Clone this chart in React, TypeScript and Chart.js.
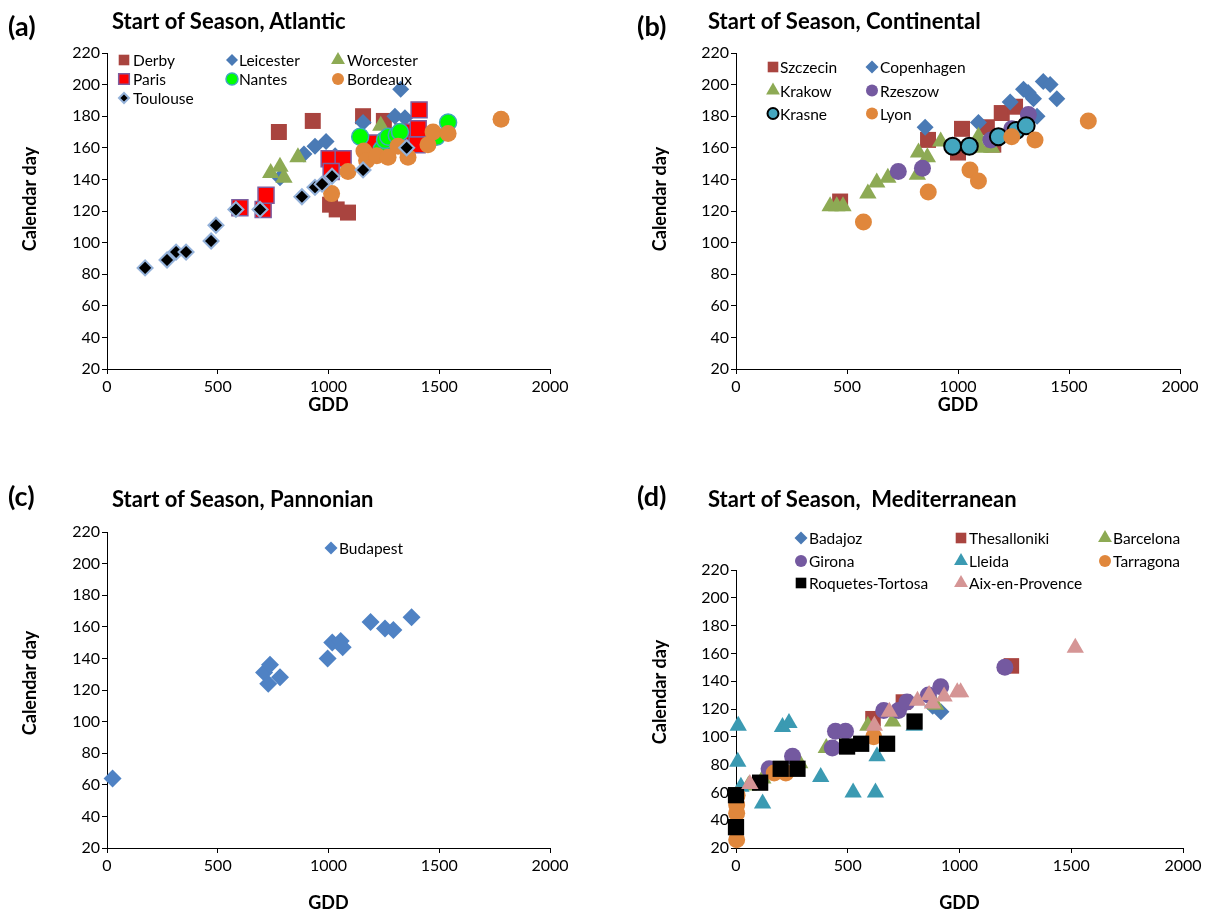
import React, { useEffect, useRef } from 'react';
import { Chart, registerables } from 'chart.js';
import { drawPoint } from 'chart.js/helpers';

Chart.register(...registerables);

const FONT = 'Lato, "Open Sans", sans-serif';

// ---------- Panel (a) Atlantic ----------
const derbyGdd = [776, 929, 1007, 1037, 1088, 1156, 1250];
const derbyDay = [170, 177, 124, 121, 119, 180, 177];
const leicesterGdd = [781, 889, 939, 989, 1030, 1156, 1300, 1345, 1326];
const leicesterDay = [141, 156, 161, 164, 155, 176, 180, 179, 197];
const worcesterGdd = [739, 781, 799, 862, 1236];
const worcesterDay = [144, 148, 141, 154, 174];
const parisGdd = [600, 705, 718, 1003, 1066, 1012, 1187, 1337, 1400, 1405, 1409];
const parisDay = [122, 121, 130, 153, 153, 145, 163, 170, 162, 172, 184];
const nantesGdd = [1143, 1240, 1255, 1270, 1308, 1323, 1488, 1540];
const nantesDay = [167, 159, 165, 167, 168, 170, 167, 176];
const bordeauxGdd = [1014, 1088, 1160, 1172, 1218, 1269, 1314, 1359, 1449, 1472, 1540, 1779];
const bordeauxDay = [131, 145, 158, 152, 155, 154, 161, 154, 162, 170, 169, 178];
const toulouseGdd = [172, 271, 312, 357, 470, 492, 582, 691, 880, 939, 971, 1016, 1156, 1353];
const toulouseDay = [84, 89, 94, 94, 101, 111, 121, 121, 129, 135, 137, 142, 146, 160];

// ---------- Panel (b) Continental ----------
const szczecinGdd = [469, 865, 1000, 1018, 1130, 1159, 1197, 1257];
const szczecinDay = [126, 165, 157, 172, 173, 162, 182, 186];
const copenhagenGdd = [852, 1092, 1235, 1295, 1316, 1340, 1356, 1384, 1415, 1445];
const copenhagenDay = [173, 176, 189, 197, 195, 191, 180, 202, 200, 191];
const krakowGdd = [424, 454, 482, 594, 634, 684, 817, 822, 862, 922, 1092, 1100, 1152];
const krakowDay = [123, 123, 123, 131, 138, 141, 143, 157, 154, 164, 167, 160, 160];
const rzeszowGdd = [731, 840, 1148, 1242, 1317];
const rzeszowDay = [145, 147, 165, 172, 181];
const krasneGdd = [976, 1051, 1182, 1262, 1307];
const krasneDay = [161, 161, 167, 171, 174];
const lyonGdd = [574, 866, 1054, 1092, 1242, 1347, 1587];
const lyonDay = [113, 132, 146, 139, 167, 165, 177];

// ---------- Panel (c) Pannonian ----------
const budapestGdd = [25, 709, 728, 736, 781, 996, 1017, 1055, 1064, 1190, 1255, 1293, 1375];
const budapestDay = [64, 131, 124, 136, 128, 140, 150, 151, 147, 163, 159, 158, 166];

// ---------- Panel (d) Mediterranean ----------
const badajozGdd = [880, 917];
const badajozDay = [122, 118];
const thessGdd = [613, 749, 1232];
const thessDay = [113, 125, 151];
const barcelonaGdd = [56, 120, 285, 404, 590, 701, 893];
const barcelonaDay = [65, 70, 81, 92, 108, 111, 123];
const gironaGdd = [148, 253, 431, 445, 490, 661, 727, 765, 861, 916, 1203];
const gironaDay = [77, 86, 92, 104, 104, 119, 119, 125, 130, 136, 150];
const lleidaGdd = [8, 10, 22, 119, 208, 237, 379, 524, 624, 631, 797];
const lleidaDay = [82, 108, 64, 52, 107, 110, 71, 60, 60, 86, 108];
const tarragonaGdd = [3, 3, 3, 5, 171, 223, 616];
const tarragonaDay = [26, 45, 51, 58, 74, 74, 100];
const roquetesGdd = [0, 0, 108, 200, 275, 497, 560, 676, 799];
const roquetesDay = [58, 35, 67, 77, 77, 93, 95, 95, 111];
const aixGdd = [62, 619, 686, 812, 864, 879, 931, 990, 1005, 1518];
const aixDay = [66, 108, 118, 126, 130, 124, 129, 132, 132, 164];

// axis ticks
const xMin = 0, xMax = 2000, xStep = 500;
const yMin = 20, yMax = 220, yStep = 20;
const xTitle = 'GDD';
const yTitle = 'Calendar day';

const RED = '#A9443F', BLUE = '#4A7AB5', OLIVE = '#8DAA54', PURPLE = '#7459A0',
  ORANGE = '#E0873C', TEAL = '#3B9AB2';

type S = {
  label: string; x: number[]; y: number[]; style: string; fill: string; stroke: string;
  bw: number; r: number; lr: number; col: number; row: number;
};

type P = {
  key: string; left: number; top: number; width: number; height: number;
  series: S[]; markerX: number[]; textX: number[]; rowY: number[];
  yW: number; xH: number; padTop: number; padRight: number; yTitleX: number; yTitleY: number; xTitlePad: number;
  letter: string; title: string; letterLeft: number; letterY: number; titleLeft: number; titleY: number;
};

const panels: P[] = [
  {
    key: 'a', left: 0, top: 0, width: 605, height: 458,
    yW: 107, xH: 89, padTop: 53, padRight: 55, yTitleX: 30, yTitleY: 199, xTitlePad: 42,
    letter: '(a)', title: 'Start of Season, Atlantic', letterLeft: 8, letterY: 26, titleLeft: 112, titleY: 21,
    markerX: [124, 232, 338], textX: [133, 239, 347], rowY: [60, 79, 98],
    series: [
      { label: 'Derby', x: derbyGdd, y: derbyDay, style: 'rect', fill: RED, stroke: RED, bw: 0, r: 11.3, lr: 7.5, col: 0, row: 0 },
      { label: 'Leicester', x: leicesterGdd, y: leicesterDay, style: 'rectRot', fill: BLUE, stroke: BLUE, bw: 0, r: 8.5, lr: 6, col: 1, row: 0 },
      { label: 'Worcester', x: worcesterGdd, y: worcesterDay, style: 'triangle', fill: OLIVE, stroke: OLIVE, bw: 0, r: 10, lr: 8, col: 2, row: 0 },
      { label: 'Paris', x: parisGdd, y: parisDay, style: 'rect', fill: '#FF0000', stroke: '#7D5FA0', bw: 1.5, r: 11.3, lr: 7.5, col: 0, row: 1 },
      { label: 'Nantes', x: nantesGdd, y: nantesDay, style: 'circle', fill: '#00FF00', stroke: '#3DA8BC', bw: 1.5, r: 8.5, lr: 6, col: 1, row: 1 },
      { label: 'Bordeaux', x: bordeauxGdd, y: bordeauxDay, style: 'circle', fill: ORANGE, stroke: ORANGE, bw: 0, r: 8.5, lr: 6, col: 2, row: 1 },
      { label: 'Toulouse', x: toulouseGdd, y: toulouseDay, style: 'rectRot', fill: '#000000', stroke: '#94B2DA', bw: 2, r: 7.5, lr: 5, col: 0, row: 2 },
    ],
  },
  {
    key: 'b', left: 605, top: 0, width: 606, height: 458,
    yW: 131, xH: 89, padTop: 53, padRight: 31, yTitleX: 55, yTitleY: 199, xTitlePad: 42,
    letter: '(b)', title: 'Start of Season, Continental', letterLeft: 637, letterY: 26, titleLeft: 708, titleY: 21,
    markerX: [168, 267], textX: [175, 275], rowY: [67, 90.5, 113.5],
    series: [
      { label: 'Szczecin', x: szczecinGdd, y: szczecinDay, style: 'rect', fill: RED, stroke: RED, bw: 0, r: 11.3, lr: 7.5, col: 0, row: 0 },
      { label: 'Copenhagen', x: copenhagenGdd, y: copenhagenDay, style: 'rectRot', fill: BLUE, stroke: BLUE, bw: 0, r: 8.5, lr: 6.5, col: 1, row: 0 },
      { label: 'Krakow', x: krakowGdd, y: krakowDay, style: 'triangle', fill: OLIVE, stroke: OLIVE, bw: 0, r: 10, lr: 8, col: 0, row: 1 },
      { label: 'Rzeszow', x: rzeszowGdd, y: rzeszowDay, style: 'circle', fill: PURPLE, stroke: PURPLE, bw: 0, r: 8.5, lr: 6, col: 1, row: 1 },
      { label: 'Krasne', x: krasneGdd, y: krasneDay, style: 'circle', fill: '#44A6BF', stroke: '#000000', bw: 2, r: 8.5, lr: 5.5, col: 0, row: 2 },
      { label: 'Lyon', x: lyonGdd, y: lyonDay, style: 'circle', fill: ORANGE, stroke: ORANGE, bw: 0, r: 8.5, lr: 6, col: 1, row: 2 },
    ],
  },
  {
    key: 'c', left: 0, top: 458, width: 605, height: 458,
    yW: 107, xH: 68, padTop: 74, padRight: 55, yTitleX: 30, yTitleY: 225, xTitlePad: 2,
    letter: '(c)', title: 'Start of Season, Pannonian', letterLeft: 8, letterY: 496, titleLeft: 112, titleY: 499,
    markerX: [331], textX: [339], rowY: [90],
    series: [
      { label: 'Budapest', x: budapestGdd, y: budapestDay, style: 'rectRot', fill: '#4F82C4', stroke: '#4F82C4', bw: 0, r: 9, lr: 6.5, col: 0, row: 0 },
    ],
  },
  {
    key: 'd', left: 605, top: 458, width: 606, height: 458,
    yW: 131, xH: 68, padTop: 112, padRight: 28, yTitleX: 55, yTitleY: 234, xTitlePad: 2,
    letter: '(d)', title: 'Start of Season,  Mediterranean', letterLeft: 637, letterY: 496, titleLeft: 708, titleY: 499,
    markerX: [196, 356, 500], textX: [204, 364, 508], rowY: [80, 103, 125],
    series: [
      { label: 'Badajoz', x: badajozGdd, y: badajozDay, style: 'rectRot', fill: BLUE, stroke: BLUE, bw: 0, r: 8.5, lr: 6.5, col: 0, row: 0 },
      { label: 'Thesalloniki', x: thessGdd, y: thessDay, style: 'rect', fill: RED, stroke: RED, bw: 0, r: 11, lr: 7.5, col: 1, row: 0 },
      { label: 'Barcelona', x: barcelonaGdd, y: barcelonaDay, style: 'triangle', fill: OLIVE, stroke: OLIVE, bw: 0, r: 10, lr: 8, col: 2, row: 0 },
      { label: 'Girona', x: gironaGdd, y: gironaDay, style: 'circle', fill: PURPLE, stroke: PURPLE, bw: 0, r: 8.5, lr: 6, col: 0, row: 1 },
      { label: 'Lleida', x: lleidaGdd, y: lleidaDay, style: 'triangle', fill: TEAL, stroke: TEAL, bw: 0, r: 10, lr: 8, col: 1, row: 1 },
      { label: 'Tarragona', x: tarragonaGdd, y: tarragonaDay, style: 'circle', fill: ORANGE, stroke: ORANGE, bw: 0, r: 8.5, lr: 6, col: 2, row: 1 },
      { label: 'Roquetes-Tortosa', x: roquetesGdd, y: roquetesDay, style: 'rect', fill: '#000000', stroke: '#000000', bw: 0, r: 11.5, lr: 7.5, col: 0, row: 2 },
      { label: 'Aix-en-Provence', x: aixGdd, y: aixDay, style: 'triangle', fill: '#D59595', stroke: '#D59595', bw: 0, r: 10, lr: 8, col: 1, row: 2 },
    ],
  },
];

function ChartPanel({ p }: { p: P }) {
  const ref = useRef<HTMLCanvasElement>(null);
  useEffect(() => {
    const legendPlugin = {
      id: 'gridLegend_' + p.key,
      afterDraw(chart: any) {
        const ctx = chart.ctx;
        ctx.save();
        ctx.font = `15.5px ${FONT}`;
        ctx.textBaseline = 'middle';
        ctx.textAlign = 'left';
        p.series.forEach((s) => {
          const mx = p.markerX[s.col];
          const tx = p.textX[s.col];
          const y = p.rowY[s.row];
          ctx.fillStyle = s.fill;
          ctx.strokeStyle = s.stroke;
          ctx.lineWidth = s.bw;
          drawPoint(ctx, { pointStyle: s.style as any, radius: s.lr, borderWidth: s.bw, rotation: 0 } as any, mx, y);
          ctx.fillStyle = '#000000';
          ctx.fillText(s.label, tx, y + 1);
        });
        // y-axis title
        ctx.save();
        ctx.translate(p.yTitleX, p.yTitleY);
        ctx.rotate(-Math.PI / 2);
        ctx.font = `bold 18px ${FONT}`;
        ctx.textAlign = 'center';
        ctx.textBaseline = 'middle';
        ctx.fillStyle = '#000000';
        ctx.fillText(yTitle, 0, 0);
        ctx.restore();
        ctx.restore();
      },
    };
    const n = p.series.length;
    const chart = new Chart(ref.current as HTMLCanvasElement, {
      type: 'scatter',
      data: {
        datasets: p.series.map((s, i) => ({
          label: s.label,
          data: s.x.map((v, j) => ({ x: v, y: s.y[j] })),
          pointStyle: s.style as any,
          pointRadius: s.r,
          pointHoverRadius: s.r,
          pointBackgroundColor: s.fill,
          pointBorderColor: s.stroke,
          pointBorderWidth: s.bw,
          backgroundColor: s.fill,
          borderColor: s.stroke,
          showLine: false,
          clip: false as any,
          order: n - i,
        })),
      },
      options: {
        animation: false,
        responsive: false,
        events: [],
        layout: { padding: { left: 0, top: p.padTop, right: p.padRight, bottom: 0 } },
        plugins: { legend: { display: false }, tooltip: { enabled: false } },
        scales: {
          x: {
            type: 'linear', min: xMin, max: xMax,
            ticks: { stepSize: xStep, color: '#000', font: { family: FONT, size: 16 }, padding: 3, callback: (v: any) => String(v) },
            grid: { display: true, drawOnChartArea: false, drawTicks: true, tickLength: 5, color: '#000', lineWidth: 1 },
            border: { display: true, color: '#000', width: 1 },
            title: { display: true, text: xTitle, color: '#000', font: { family: FONT, size: 18, weight: 'bold' }, padding: { top: 0, bottom: p.xTitlePad } },
            afterFit: (sc: any) => { sc.height = p.xH; },
          },
          y: {
            type: 'linear', min: yMin, max: yMax,
            ticks: { stepSize: yStep, color: '#000', font: { family: FONT, size: 16 }, padding: 2, callback: (v: any) => String(v) },
            grid: { display: true, drawOnChartArea: false, drawTicks: true, tickLength: 5, color: '#000', lineWidth: 1 },
            border: { display: true, color: '#000', width: 1 },
            title: { display: false },
            afterFit: (sc: any) => { sc.width = p.yW; },
          },
        },
      } as any,
      plugins: [legendPlugin],
    });
    return () => chart.destroy();
  }, []);
  return (
    <canvas
      ref={ref}
      width={p.width}
      height={p.height}
      style={{ position: 'absolute', left: p.left, top: p.top, width: p.width, height: p.height }}
    />
  );
}

export default function App() {
  return (
    <div style={{ position: 'absolute', left: 0, top: 0, width: 1211, height: 916, background: '#fff', overflow: 'hidden', fontFamily: FONT }}>
      {panels.map((p) => (
        <ChartPanel key={p.key} p={p} />
      ))}
      {panels.map((p) => (
        <React.Fragment key={'t' + p.key}>
          <div style={{ position: 'absolute', left: p.letterLeft, top: p.letterY - 16, fontSize: 27, lineHeight: '32px', fontWeight: 700, color: '#000', whiteSpace: 'pre' }}>{p.letter}</div>
          <div style={{ position: 'absolute', left: p.titleLeft, top: p.titleY - 13, fontSize: 22, lineHeight: '26px', fontWeight: 700, color: '#000', whiteSpace: 'pre' }}>{p.title}</div>
        </React.Fragment>
      ))}
    </div>
  );
}
